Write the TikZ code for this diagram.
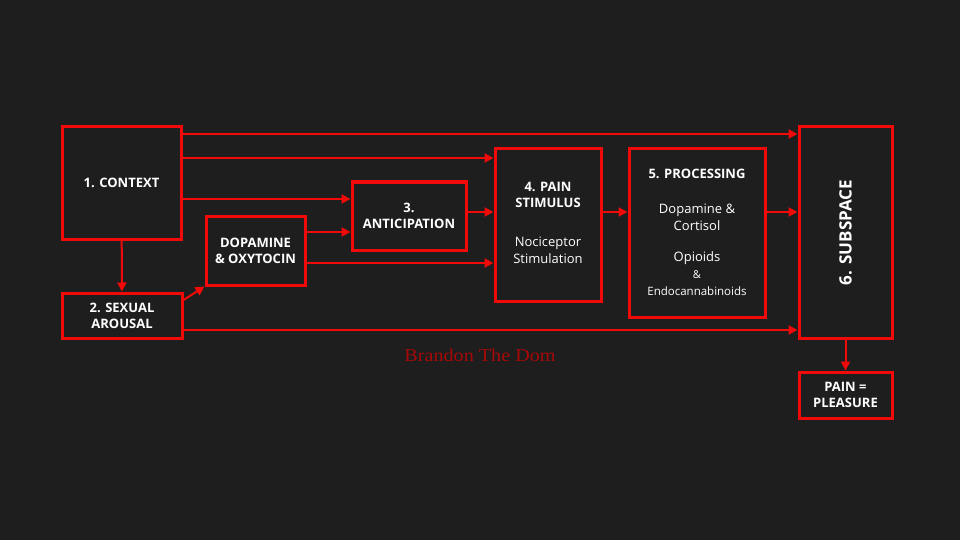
\documentclass[tikz,border=0pt]{standalone}
\usepackage{fontspec}
\setmainfont{Open Sans}
\newfontfamily\sig{Liberation Serif}
\usetikzlibrary{arrows.meta}
\definecolor{bg}{HTML}{1E1E1E}
\definecolor{rd}{HTML}{F00A0A}
\definecolor{sigc}{HTML}{A80808}
\begin{document}
\begin{tikzpicture}[x=1pt,y=-1pt,
 box/.style={draw=rd,line width=3pt,inner sep=0pt,align=center,text=white,font=\fontsize{13}{16}\selectfont\bfseries},
 arr/.style={draw=rd,line width=2pt,-{Triangle[length=9pt,width=9pt]}}]
\fill[bg] (0,0) rectangle (960,540);
\useasboundingbox (0,0) rectangle (960,540);
\node[box,minimum width=119,minimum height=112] (ctx) at (121.5,183) {1. CONTEXT};
\node[box,minimum width=120,minimum height=45] (sex) at (122,315.5) {2. SEXUAL\\AROUSAL};
\node[box,minimum width=99,minimum height=69] (dop) at (255.5,250.5) {DOPAMINE\\\& OXYTOCIN};
\node[box,minimum width=114,minimum height=68] (ant) at (409,216) {3.\\ANTICIPATION};
\node[box,minimum width=106,minimum height=152] (pain) at (548,225) {};
\node[align=center,text=white,font=\fontsize{13}{16}\selectfont\bfseries] (painT) at (548,195) {4. PAIN\\STIMULUS};
\node[align=center,text=white,font=\fontsize{13}{17}\selectfont] (painB) at (548,250) {Nociceptor\\Stimulation};
\node[box,minimum width=136,minimum height=168] (proc) at (697,233) {};
\node[text=white,font=\fontsize{13}{16}\selectfont\bfseries] (procT) at (697,174) {5. PROCESSING};
\node[align=center,text=white,font=\fontsize{13}{17}\selectfont] (procM) at (697,217) {Dopamine \&\\Cortisol};
\node[align=center,text=white,font=\fontsize{13}{17}\selectfont] (procO) at (697,274) {Opioids\\{\fontsize{11}{14}\selectfont \&}\\{\fontsize{11.5}{14}\selectfont Endocannabinoids}};
\node[box,minimum width=93,minimum height=211] (sub) at (845.5,232.5) {};
\node[rotate=90,text=white,font=\fontsize{17}{20}\selectfont\bfseries] (subT) at (845.5,232.5) {6. SUBSPACE};
\node[box,minimum width=93,minimum height=46] (pp) at (845.5,395) {PAIN =\\PLEASURE};
\node[text=sigc,font=\sig\fontsize{18}{20}\selectfont,xscale=1.12] (sg) at (480,355) {Brandon The Dom};
\draw[arr] (ctx.east|-0,134) -- (sub.west|-0,134);
\draw[arr] (ctx.east|-0,158) -- (pain.west|-0,158);
\draw[arr] (ctx.east|-0,199) -- (ant.west|-0,199);
\draw[arr] (ctx) -- (sex);
\draw[arr] (sex.east|-0,300) -- (dop.south west);
\draw[arr] (dop.east|-0,232) -- (ant.west|-0,232);
\draw[arr] (dop.east|-0,263) -- (pain.west|-0,263);
\draw[arr] (ant.east|-0,212) -- (pain.west|-0,212);
\draw[arr] (pain.east|-0,212) -- (proc.west|-0,212);
\draw[arr] (proc.east|-0,212) -- (sub.west|-0,212);
\draw[arr] (sex.east|-0,330) -- (sub.west|-0,330);
\draw[arr] (sub) -- (pp);
\end{tikzpicture}
\end{document}
